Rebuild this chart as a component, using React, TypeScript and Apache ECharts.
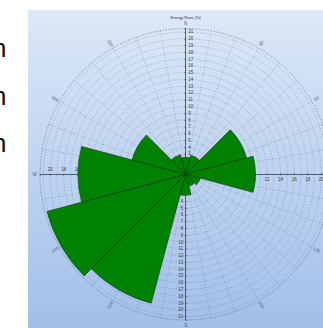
import React, { useEffect, useRef } from "react";
import * as echarts from "echarts";

// 12 direction sectors (30° each), centred on bearings 0, 30, ... 330
const sectors = ["N", "30", "60", "E", "120", "150", "S", "210", "240", "W", "300", "330"];
const energyShare = [2.5, 2.9, 9.3, 10.3, 2.2, 1.8, 3.1, 19.7, 21.2, 15.9, 8.2, 3.0];
const compassBearings = [0, 30, 60, 90, 120, 150, 180, 210, 240, 270, 300, 330];
const compassLabels = ["N", "30", "60", "E", "120", "150", "S", "210", "240", "W", "300", "330"];
const sideGlyphRows = [48, 95.5, 142.5];
const radiusMax = 21.5;
const titleText = "Energy Rose (%)";

const CX = 185.7;
const CY = 174.3;
const R = 145.7;

export default function App() {
  const ref = useRef<HTMLDivElement>(null);

  useEffect(() => {
    const chart = echarts.init(ref.current!, null, { renderer: "svg" });
    const center = [CX, CY];
    const gridLine = { color: "rgba(70,85,110,0.5)", width: 0.5, type: [1.5, 1.5] };
    const labelFmt = (v: number) => (v === 0 || v % 1 !== 0 ? "" : String(v));

    const hiddenAngle = (idx: number, start: number) => ({
      polarIndex: idx,
      type: "value",
      min: 0,
      max: 360,
      startAngle: start,
      clockwise: true,
      axisLine: { show: false },
      axisTick: { show: false },
      axisLabel: { show: false },
      splitLine: { show: false },
    });

    const radAxis = (idx: number, interval: number, align: string, vAlign: string) => ({
      polarIndex: idx,
      type: "value",
      min: 0,
      max: radiusMax,
      interval,
      axisLine: { show: true, lineStyle: { color: "#3d4450", width: 0.8 } },
      axisTick: { show: true, length: 1.5, lineStyle: { color: "#3d4450", width: 0.5 } },
      axisLabel: {
        show: true,
        fontSize: 4.5,
        color: "#3a3f48",
        margin: -2.5,
        align,
        verticalAlign: vAlign,
        fontFamily: "Liberation Sans",
        formatter: labelFmt,
      },
      splitLine: { show: false },
    });

    const elements: any[] = [
      {
        type: "rect",
        z: -100,
        shape: { x: 28, y: 10, width: 295, height: 318 },
        style: {
          fill: new echarts.graphic.LinearGradient(0, 0, 0, 1, [
            { offset: 0, color: "#dde8f7" },
            { offset: 1, color: "#a1bfea" },
          ]),
        },
      },
      {
        type: "text",
        z: 10,
        x: CX,
        y: 17,
        style: {
          text: titleText,
          fontSize: 4,
          fill: "#333a44",
          align: "center",
          verticalAlign: "middle",
          fontFamily: "Liberation Sans",
        },
      },
    ];

    compassBearings.forEach((b, i) => {
      const rad = (b * Math.PI) / 180;
      const rr = 151;
      let a = 90 - b;
      while (a > 90) a -= 180;
      while (a <= -90) a += 180;
      const isLetter = b % 90 === 0;
      elements.push({
        type: "text",
        z: 10,
        x: CX + rr * Math.sin(rad),
        y: CY - rr * Math.cos(rad),
        rotation: isLetter ? 0 : (a * Math.PI) / 180,
        style: {
          text: compassLabels[i],
          fontSize: 4.5,
          fill: "#50596a",
          align: "center",
          verticalAlign: "middle",
          fontFamily: "Liberation Sans",
        },
      });
    });

    sideGlyphRows.forEach((y) => {
      elements.push({
        type: "text",
        z: 10,
        x: -8,
        y,
        style: {
          text: "n",
          fontSize: 26,
          fill: "#111",
          align: "left",
          verticalAlign: "middle",
          fontFamily: "Liberation Sans",
        },
      });
    });

    chart.setOption({
      animation: false,
      backgroundColor: "#ffffff",
      polar: [
        { center, radius: R },
        { center, radius: R },
        { center, radius: R },
        { center, radius: R },
        { center, radius: R },
      ],
      angleAxis: [
        {
          polarIndex: 0,
          type: "category",
          data: sectors,
          startAngle: 105,
          clockwise: true,
          boundaryGap: true,
          axisLine: { show: false },
          axisTick: { show: false },
          axisLabel: { show: false },
          splitLine: { show: false },
        },
        {
          polarIndex: 1,
          type: "value",
          min: 0,
          max: 360,
          interval: 10,
          startAngle: 90,
          clockwise: true,
          axisLine: { show: true, lineStyle: gridLine },
          axisTick: { show: false },
          axisLabel: { show: false },
          splitLine: { show: true, lineStyle: gridLine },
        },
        hiddenAngle(2, 270),
        hiddenAngle(3, 0),
        hiddenAngle(4, 180),
      ],
      radiusAxis: [
        {
          polarIndex: 0,
          type: "value",
          min: 0,
          max: radiusMax,
          axisLine: { show: false },
          axisTick: { show: false },
          axisLabel: { show: false },
          splitLine: { show: false },
        },
        {
          ...radAxis(1, 1, "left", "middle"),
          splitLine: { show: true, lineStyle: gridLine },
        },
        radAxis(2, 1, "right", "middle"),
        radAxis(3, 2, "center", "top"),
        radAxis(4, 2, "center", "bottom"),
      ],
      series: [
        {
          type: "bar",
          coordinateSystem: "polar",
          polarIndex: 0,
          data: energyShare,
          barCategoryGap: "0%",
          z: 5,
          itemStyle: { color: "#008000", borderColor: "#0b3a0b", borderWidth: 0.6 },
        },
      ],
      graphic: { elements },
    });

    return () => chart.dispose();
  }, []);

  return (
    <div
      ref={ref}
      style={{ position: "fixed", left: 0, top: 0, width: 323, height: 328, background: "#fff" }}
    />
  );
}
